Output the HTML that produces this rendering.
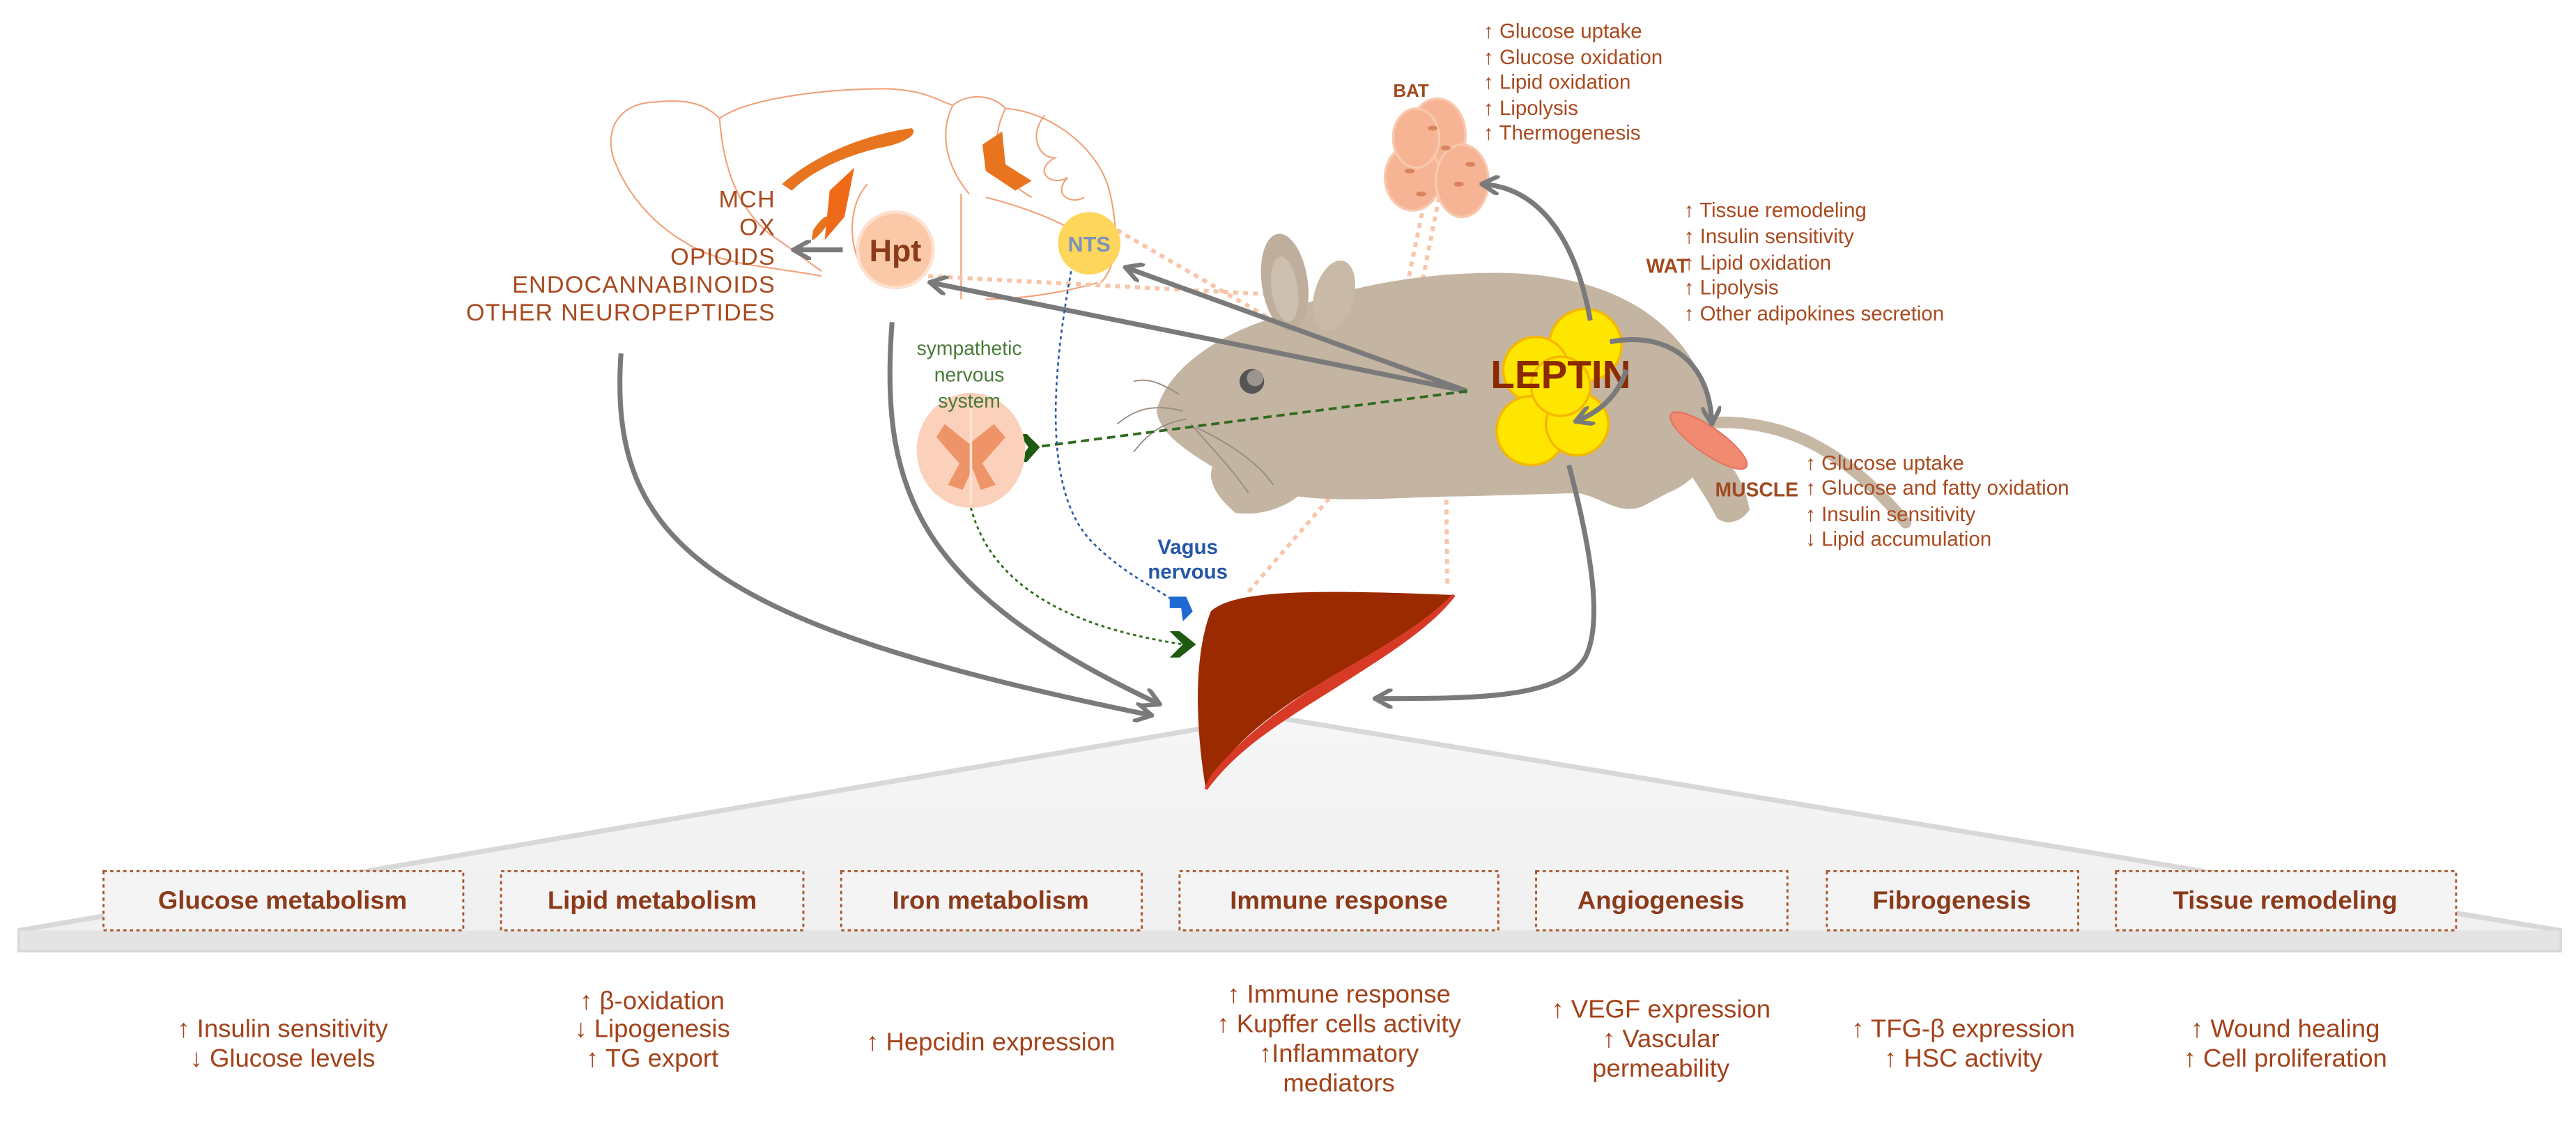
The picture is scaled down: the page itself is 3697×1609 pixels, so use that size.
<!DOCTYPE html>
<html><head><meta charset="utf-8"><style>
html,body{margin:0;padding:0;background:#fff;}
svg{display:block;}
text{font-family:"Liberation Sans",sans-serif;}
</style></head><body>
<svg width="3697" height="1609" viewBox="0 0 1568 682" preserveAspectRatio="none" xmlns="http://www.w3.org/2000/svg">
<defs>
<marker id="ag" viewBox="0 0 10 10" refX="8" refY="5" markerWidth="4" markerHeight="4" orient="auto"><path d="M0,0 L9,5 L0,10" fill="none" stroke="#7a7a7a" stroke-width="2.2"/></marker>
<linearGradient id="tri" x1="0" y1="0" x2="0" y2="1"><stop offset="0" stop-color="#f6f6f6"/><stop offset="1" stop-color="#efefef"/></linearGradient>
</defs>
<!-- triangle -->
<path d="M774,436 L1558,566 L1558,578 L12,578 L12,566 Z" fill="url(#tri)" stroke="#d8d8d8" stroke-width="3"/>
<rect x="12" y="566" width="1546" height="12" fill="#e4e4e4"/>
<!-- boxes -->
<g fill="#f4f4f4" stroke="#a8552a" stroke-width="1.2" stroke-dasharray="2,2">
<rect x="63" y="530" width="219" height="36"/>
<rect x="305" y="530" width="184" height="36"/>
<rect x="512" y="530" width="183" height="36"/>
<rect x="718" y="530" width="194" height="36"/>
<rect x="935" y="530" width="153" height="36"/>
<rect x="1112" y="530" width="153" height="36"/>
<rect x="1288" y="530" width="207" height="36"/>
</g>
<g font-size="15.5" font-weight="bold" fill="#8b3a1a" text-anchor="middle">
<text x="172" y="553">Glucose metabolism</text>
<text x="397" y="553">Lipid metabolism</text>
<text x="603" y="553">Iron metabolism</text>
<text x="815" y="553">Immune response</text>
<text x="1011" y="553">Angiogenesis</text>
<text x="1188" y="553">Fibrogenesis</text>
<text x="1391" y="553">Tissue remodeling</text>
</g>
<g font-size="15.5" fill="#a3421a" text-anchor="middle">
<text x="172" y="631">↑ Insulin sensitivity</text>
<text x="172" y="649">↓ Glucose levels</text>
<text x="397" y="614">↑ β-oxidation</text>
<text x="397" y="631">↓ Lipogenesis</text>
<text x="397" y="649">↑ TG export</text>
<text x="603" y="639">↑ Hepcidin expression</text>
<text x="815" y="610">↑ Immune  response</text>
<text x="815" y="628">↑ Kupffer cells activity</text>
<text x="815" y="646">↑Inflammatory</text>
<text x="815" y="664">mediators</text>
<text x="1011" y="619">↑ VEGF expression</text>
<text x="1011" y="637">↑ Vascular</text>
<text x="1011" y="655">permeability</text>
<text x="1195" y="631">↑ TFG-β expression</text>
<text x="1195" y="649">↑ HSC activity</text>
<text x="1391" y="631">↑ Wound healing</text>
<text x="1391" y="649">↑ Cell proliferation</text>
</g>
<!-- brain -->
<g fill="none" stroke="#f0a27a" stroke-width="0.9">
<path d="M373,95 C368,75 380,62 400,62 C420,60 430,64 438,72 C455,60 500,54 540,54 C565,55 572,62 580,64 C590,56 605,58 612,66 C640,68 668,90 675,115 C680,135 682,160 670,172"/>
<path d="M373,95 C380,115 395,135 418,148 C440,162 470,162 500,168"/>
<path d="M438,72 C440,100 448,125 468,142"/>
<path d="M580,64 C572,80 575,100 590,118"/>
<path d="M612,66 C602,86 606,108 628,120"/>
<path d="M668,172 C640,180 615,182 600,182"/>
<path d="M528,112 C516,125 516,150 526,165"/>
<path d="M585,118 L585,182"/>
<path d="M636,70 C626,82 632,96 642,96 C628,104 640,114 650,108 C640,118 652,125 660,120"/>
<path d="M468,142 C480,150 490,158 500,165"/>
<path d="M600,120 C620,125 650,135 668,150"/>
</g>
<g fill="#e8741f">
<path d="M476,112 C495,95 525,82 555,78 C560,82 548,88 535,90 C510,96 492,106 482,116 Z"/>
<path d="M505,116 L520,102 L514,132 L502,146 Z" fill="#ee6a18"/>
<path d="M598,88 L610,80 L612,100 L628,110 L618,116 L600,104 Z"/>
<path d="M495,140 C500,132 506,128 504,136 C500,142 496,146 494,146 Z"/>
</g>
<!-- neuropeptides -->
<g font-size="14.5" fill="#a84a1f" text-anchor="end" letter-spacing="0.5">
<text x="472" y="126">MCH</text>
<text x="472" y="143">OX</text>
<text x="472" y="161">OPIOIDS</text>
<text x="472" y="178">ENDOCANNABINOIDS</text>
<text x="472" y="195">OTHER NEUROPEPTIDES</text>
</g>
<!-- pink dotted lines -->
<g stroke="#f7c6aa" stroke-width="2.5" stroke-dasharray="3,3" fill="none">
<path d="M565,168 L790,180"/>
<path d="M680,140 L775,195"/>
<path d="M876,120 L860,200"/>
<path d="M868,118 L850,205"/>
<path d="M760,360 L836,272"/>
<path d="M881,355 L880,275"/>
</g>
<!-- mouse tail -->
<path d="M1030,258 C1080,252 1120,270 1160,318" stroke="#c7b8a6" stroke-width="7" fill="none" stroke-linecap="round"/>
<!-- mouse body -->
<path d="M704,250 C710,225 740,205 770,195 C800,180 850,166 910,166 C975,166 1020,190 1038,235 C1050,265 1040,290 1015,300 L1000,308 C985,314 975,302 960,300 L890,302 C860,302 820,306 790,302 C780,310 765,314 752,312 C740,302 735,292 738,284 C722,274 706,264 704,250 Z" fill="#c4b4a2"/>
<path d="M1040,272 C1055,280 1062,295 1065,310 C1060,318 1050,320 1045,315 C1040,305 1035,298 1030,290 Z" fill="#c4b4a2"/>
<ellipse cx="782" cy="172" rx="14" ry="30" transform="rotate(-8 782 172)" fill="#bfae9c"/>
<ellipse cx="782" cy="176" rx="8" ry="20" transform="rotate(-8 782 176)" fill="#cdbfb0"/>
<ellipse cx="812" cy="180" rx="12" ry="22" transform="rotate(15 812 180)" fill="#c9b9a7"/>
<circle cx="762" cy="232" r="7.5" fill="#555"/><circle cx="764" cy="230" r="5" fill="#9a948c"/>
<g stroke="#9a8c80" stroke-width="0.8" fill="none">
<path d="M720,250 C700,245 690,250 680,258"/><path d="M722,255 C705,258 698,265 690,275"/>
<path d="M725,258 C735,270 750,285 760,300"/><path d="M728,260 C745,268 765,280 775,295"/>
<path d="M718,240 C705,232 698,230 690,232"/>
</g>
<!-- BAT -->
<g fill="#f6b494" stroke="#f7c9ae" stroke-width="1.5">
<ellipse cx="875" cy="82" rx="17" ry="22"/>
<ellipse cx="860" cy="108" rx="17" ry="20"/>
<ellipse cx="890" cy="110" rx="16" ry="22"/>
<ellipse cx="862" cy="84" rx="14" ry="18"/>
</g>
<g fill="#d9845e"><ellipse cx="872" cy="78" rx="3" ry="1.5"/><ellipse cx="880" cy="90" rx="3" ry="1.5"/><ellipse cx="858" cy="104" rx="3" ry="1.5"/><ellipse cx="888" cy="112" rx="3" ry="1.5"/><ellipse cx="865" cy="118" rx="3" ry="1.5"/><ellipse cx="895" cy="100" rx="3" ry="1.5"/></g>
<text x="848" y="59" font-size="11" font-weight="bold" fill="#a04a1f">BAT</text>
<g font-size="12.5" fill="#a84a1f">
<text x="903" y="23">↑ Glucose uptake</text>
<text x="903" y="39">↑ Glucose oxidation</text>
<text x="903" y="54">↑ Lipid oxidation</text>
<text x="903" y="70">↑ Lipolysis</text>
<text x="903" y="85">↑ Thermogenesis</text>
</g>
<text x="1002" y="166" font-size="12" font-weight="bold" fill="#a04a1f">WAT</text>
<g font-size="12.5" fill="#a84a1f">
<text x="1025" y="132">↑ Tissue  remodeling</text>
<text x="1025" y="148">↑ Insulin  sensitivity</text>
<text x="1025" y="164">↑ Lipid oxidation</text>
<text x="1025" y="179">↑ Lipolysis</text>
<text x="1025" y="195">↑ Other  adipokines  secretion</text>
</g>
<text x="1044" y="302" font-size="12" font-weight="bold" fill="#a04a1f">MUSCLE</text>
<g font-size="12.5" fill="#a84a1f">
<text x="1099" y="286">↑ Glucose  uptake</text>
<text x="1099" y="301">↑ Glucose  and  fatty oxidation</text>
<text x="1099" y="317">↑ Insulin sensitivity</text>
<text x="1099" y="332">↓ Lipid accumulation</text>
</g>
<!-- muscle -->
<ellipse cx="1040" cy="268" rx="28" ry="8" transform="rotate(35 1040 268)" fill="#f08a70" stroke="#e6705a" stroke-width="0.8"/>
<!-- leptin -->
<g fill="#ffe600" stroke="#f5b800" stroke-width="1.5">
<circle cx="965" cy="210" r="22"/>
<circle cx="935" cy="225" r="20"/>
<circle cx="932" cy="262" r="21"/>
<circle cx="960" cy="258" r="19"/>
<circle cx="950" cy="235" r="18"/>
</g>
<text x="950" y="236" font-size="24" font-weight="bold" fill="#8b2a00" text-anchor="middle">LEPTIN</text>
<!-- liver -->
<path d="M737,372 C750,360 790,358 885,362 C870,380 840,395 810,412 C780,430 750,450 734,480 C728,445 726,400 737,372 Z" fill="#9b2a00"/>
<path d="M885,362 C870,382 840,400 812,418 C780,438 752,455 734,480 L738,472 C760,445 790,425 815,410 C845,393 870,378 885,362 Z" fill="#d83a28" stroke="#d83a28" stroke-width="2"/>
<!-- gray arrows -->
<g stroke="#7a7a7a" stroke-width="3" fill="none" marker-end="url(#ag)">
<path d="M513,152 L484,152"/>
<path d="M893,238 L567,172"/>
<path d="M893,238 L686,163"/>
<path d="M543,196 C535,300 560,360 705,428"/>
<path d="M378,215 C370,330 430,380 700,435"/>
<path d="M955,283 C970,340 975,380 965,400 C950,425 900,425 838,425"/>
<path d="M968,195 C960,150 940,115 903,112"/>
<path d="M980,208 C1010,202 1040,215 1042,257"/>
<path d="M990,225 C985,240 975,250 960,256"/>
</g>
<!-- green dashed -->
<path d="M893,238 L630,272" stroke="#2f6b1f" stroke-width="1.6" stroke-dasharray="5,3" fill="none"/>
<path d="M625,264 L633,272 L625,281 L620,281 L626,272 L620,264 Z" fill="#1e5a12"/>
<path d="M590,305 C600,350 640,380 720,392" stroke="#2f6b1f" stroke-width="1.2" stroke-dasharray="2,2" fill="none"/>
<path d="M718,384 L728,392 L718,400 L712,400 L720,392 L712,384 Z" fill="#1e5a12"/>
<!-- blue dotted -->
<path d="M652,165 C640,230 635,300 665,330 C685,350 700,355 718,368" stroke="#2457a8" stroke-width="1.1" stroke-dasharray="2,2" fill="none"/>
<path d="M712,363 L722,363 L726,372 L720,378 L719,370 L712,370 Z" fill="#1f6ad0"/>
<!-- spinal cord -->
<ellipse cx="591" cy="274" rx="33" ry="35" fill="#fbd1bb"/>
<path d="M575,258 L590,270 L605,258 L612,266 L598,282 L606,295 L597,298 L592,285 L586,298 L577,295 L584,282 L570,266 Z" fill="#ef9468"/>
<line x1="591" y1="242" x2="591" y2="307" stroke="#fde4d6" stroke-width="1.5"/>
<!-- Hpt / NTS -->
<circle cx="545" cy="152" r="23" fill="#fbc8a8" stroke="#fde0cf" stroke-width="2"/>
<text x="545" y="159" font-size="19" font-weight="bold" fill="#8b3a1a" text-anchor="middle">Hpt</text>
<circle cx="663" cy="148" r="19" fill="#fdd65b"/>
<text x="663" y="153" font-size="13" font-weight="bold" fill="#7a93b8" text-anchor="middle">NTS</text>
<!-- labels -->
<g font-size="12" fill="#4a7a3a" text-anchor="middle">
<text x="590" y="216">sympathetic</text>
<text x="590" y="232">nervous</text>
<text x="590" y="248">system</text>
</g>
<g font-size="12.5" font-weight="bold" fill="#2457a8" text-anchor="middle">
<text x="723" y="337">Vagus</text>
<text x="723" y="352">nervous</text>
</g>
</svg>
</body></html>
